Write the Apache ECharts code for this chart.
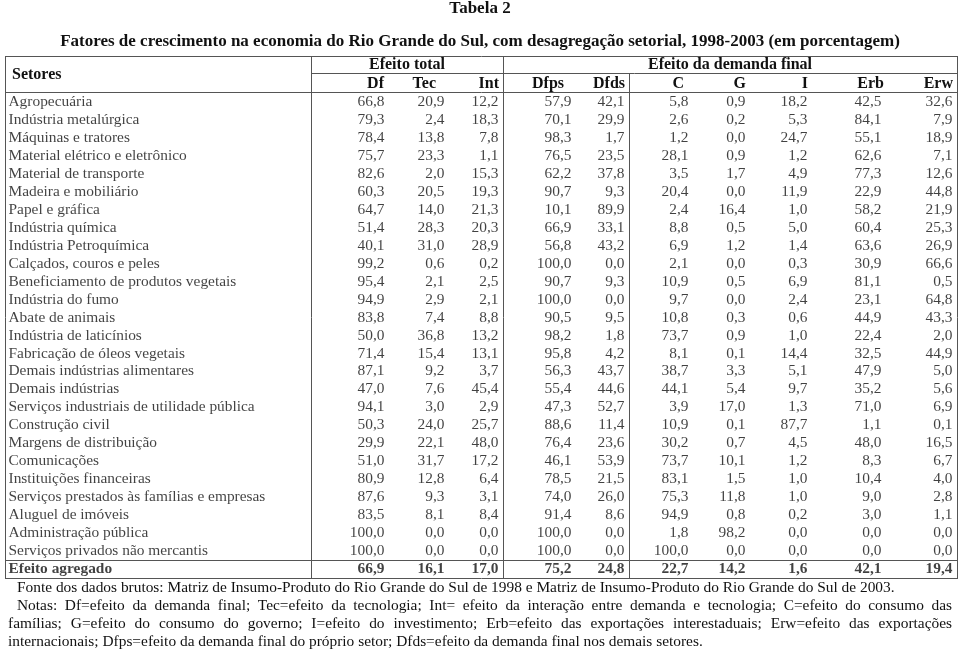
<!DOCTYPE html>
<html>
<head>
<meta charset="utf-8">
<script src="https://cdn.jsdelivr.net/npm/echarts@6/dist/echarts.min.js"></script>
<style>html,body{margin:0;padding:0;background:#fff}#c{width:960px;height:650px}</style>
</head>
<body>
<div id="c"></div>
<script>
const sectors = [
  'Agropecuária','Indústria metalúrgica','Máquinas e tratores','Material elétrico e eletrônico',
  'Material de transporte','Madeira e mobiliário','Papel e gráfica','Indústria química',
  'Indústria Petroquímica','Calçados, couros e peles','Beneficiamento de produtos vegetais',
  'Indústria do fumo','Abate de animais','Indústria de laticínios','Fabricação de óleos vegetais',
  'Demais indústrias alimentares','Demais indústrias','Serviços industriais de utilidade pública',
  'Construção civil','Margens de distribuição','Comunicações','Instituições financeiras',
  'Serviços prestados às famílias e empresas','Aluguel de imóveis','Administração pública',
  'Serviços privados não mercantis','Efeito agregado'
];
const columns = ['Df','Tec','Int','Dfps','Dfds','C','G','I','Erb','Erw'];
const df   = [66.8,79.3,78.4,75.7,82.6,60.3,64.7,51.4,40.1,99.2,95.4,94.9,83.8,50.0,71.4,87.1,47.0,94.1,50.3,29.9,51.0,80.9,87.6,83.5,100.0,100.0,66.9];
const tec  = [20.9,2.4,13.8,23.3,2.0,20.5,14.0,28.3,31.0,0.6,2.1,2.9,7.4,36.8,15.4,9.2,7.6,3.0,24.0,22.1,31.7,12.8,9.3,8.1,0.0,0.0,16.1];
const intr = [12.2,18.3,7.8,1.1,15.3,19.3,21.3,20.3,28.9,0.2,2.5,2.1,8.8,13.2,13.1,3.7,45.4,2.9,25.7,48.0,17.2,6.4,3.1,8.4,0.0,0.0,17.0];
const dfps = [57.9,70.1,98.3,76.5,62.2,90.7,10.1,66.9,56.8,100.0,90.7,100.0,90.5,98.2,95.8,56.3,55.4,47.3,88.6,76.4,46.1,78.5,74.0,91.4,100.0,100.0,75.2];
const dfds = [42.1,29.9,1.7,23.5,37.8,9.3,89.9,33.1,43.2,0.0,9.3,0.0,9.5,1.8,4.2,43.7,44.6,52.7,11.4,23.6,53.9,21.5,26.0,8.6,0.0,0.0,24.8];
const cons = [5.8,2.6,1.2,28.1,3.5,20.4,2.4,8.8,6.9,2.1,10.9,9.7,10.8,73.7,8.1,38.7,44.1,3.9,10.9,30.2,73.7,83.1,75.3,94.9,1.8,100.0,22.7];
const gov  = [0.9,0.2,0.0,0.9,1.7,0.0,16.4,0.5,1.2,0.0,0.5,0.0,0.3,0.9,0.1,3.3,5.4,17.0,0.1,0.7,10.1,1.5,11.8,0.8,98.2,0.0,14.2];
const inv  = [18.2,5.3,24.7,1.2,4.9,11.9,1.0,5.0,1.4,0.3,6.9,2.4,0.6,1.0,14.4,5.1,9.7,1.3,87.7,4.5,1.2,1.0,1.0,0.2,0.0,0.0,1.6];
const erb  = [42.5,84.1,55.1,62.6,77.3,22.9,58.2,60.4,63.6,30.9,81.1,23.1,44.9,22.4,32.5,47.9,35.2,71.0,1.1,48.0,8.3,10.4,9.0,3.0,0.0,0.0,42.1];
const erw  = [32.6,7.9,18.9,7.1,12.6,44.8,21.9,25.3,26.9,66.6,0.5,64.8,43.3,2.0,44.9,5.0,5.6,6.9,0.1,16.5,6.7,4.0,2.8,1.1,0.0,0.0,19.4];
const seriesValues = [df, tec, intr, dfps, dfds, cons, gov, inv, erb, erw];
const title = 'Tabela 2';
const subtitle = 'Fatores de crescimento na economia do Rio Grande do Sul, com desagregação setorial, 1998-2003 (em porcentagem)';
const groupHeaders = ['Efeito total', 'Efeito da demanda final'];
const stubHeader = 'Setores';
const source = 'Fonte dos dados brutos: Matriz de Insumo-Produto do Rio Grande do Sul de 1998 e Matriz de Insumo-Produto do Rio Grande do Sul de 2003.';
const notes = [
  'Notas: Df=efeito da demanda final; Tec=efeito da tecnologia; Int= efeito da interação entre demanda e tecnologia; C=efeito do consumo das',
  'famílias; G=efeito do consumo do governo; I=efeito do investimento; Erb=efeito das exportações interestaduais; Erw=efeito das exportações',
  'internacionais; Dfps=efeito da demanda final do próprio setor; Dfds=efeito da demanda final nos demais setores.'
];

// ---- layout (positions/styles) ----
const FONT = '"Liberation Serif", "Times New Roman", serif';
const FS = 15.4;
const TXT = '#111';
const LINE = '#555';
const colRight = [385, 445, 499, 572, 625, 689, 746, 808, 882, 953];
const headerRight = [384, 436, 499, 564, 625, 684, 746, 808, 884, 953];
const tableTop = 93, tableBottom = 578;
const fmt = v => v.toFixed(1).replace('.', ',');
const lastRow = sectors.length - 1;

const grids = [], xAxes = [], yAxes = [], series = [];
function addGrid(left, width) {
  const i = grids.length;
  grids.push({left: left, top: tableTop, width: width, height: tableBottom - tableTop});
  xAxes.push({type: 'value', gridIndex: i, min: 0, max: 1, show: false});
  yAxes.push({type: 'category', gridIndex: i, data: sectors, inverse: true, show: false, boundaryGap: true});
  return i;
}
// stub column
const g0 = addGrid(8, 300);
series.push({
  type: 'scatter', xAxisIndex: g0, yAxisIndex: g0, symbolSize: 1, silent: true,
  itemStyle: {color: 'rgba(0,0,0,0)'},
  data: sectors.map((s, r) => ({value: [0, r], name: s,
    label: r === lastRow ? {fontWeight: 'bold'} : undefined})),
  label: {show: true, position: 'right', distance: 0, formatter: p => p.name,
    fontFamily: FONT, fontSize: FS, color: TXT}
});
seriesValues.forEach((vals, c) => {
  const gi = addGrid(colRight[c] - 50, 50);
  series.push({
    type: 'scatter', xAxisIndex: gi, yAxisIndex: gi, symbolSize: 1, silent: true,
    itemStyle: {color: 'rgba(0,0,0,0)'},
    data: vals.map((v, r) => ({value: [1, r, v],
      label: r === lastRow ? {fontWeight: 'bold'} : undefined})),
    label: {show: true, position: 'left', distance: 0, formatter: p => fmt(p.value[2]),
      fontFamily: FONT, fontSize: FS, color: TXT}
  });
});

// table rules
const graphics = [];
function hline(y, x1, x2) { graphics.push({type: 'line', silent: true, shape: {x1: x1, y1: y + 0.5, x2: x2, y2: y + 0.5}, style: {stroke: LINE, lineWidth: 1}}); }
function vline(x, y1, y2) { graphics.push({type: 'line', silent: true, shape: {x1: x + 0.5, y1: y1, x2: x + 0.5, y2: y2}, style: {stroke: LINE, lineWidth: 1}}); }
hline(56, 5, 958); hline(73, 311, 958); hline(92, 5, 958); hline(560, 5, 958); hline(578, 5, 958);
vline(5, 56, 579); vline(311, 56, 579); vline(503, 56, 579); vline(629, 73, 579); vline(957, 56, 579);

function text(str, x, y, align, bold, size) {
  graphics.push({type: 'text', silent: true, x: x, y: y,
    style: {text: str, fill: TXT, font: (bold ? 'bold ' : '') + (size || FS) + 'px ' + FONT,
      align: align, verticalAlign: 'middle'}});
}
text(stubHeader, 12, 75, 'left', true, 16);
text(groupHeaders[0], 407, 65, 'center', true, 16);
text(groupHeaders[1], 730, 65, 'center', true, 16);
columns.forEach((h, c) => text(h, headerRight[c], 84, 'right', true, 16));

// footnotes
text(source, 17, 588, 'left', false);
const ctx = document.createElement('canvas').getContext('2d');
ctx.font = FS + 'px ' + FONT;
function justify(line, x1, x2, y) {
  const words = line.split(' ');
  const widths = words.map(w => ctx.measureText(w).width);
  const total = widths.reduce((a, b) => a + b, 0);
  const gap = (x2 - x1 - total) / (words.length - 1);
  let x = x1;
  words.forEach((w, i) => { text(w, x, y, 'left', false); x += widths[i] + gap; });
}
justify(notes[0], 17, 952, 606);
justify(notes[1], 8, 952, 624);
text(notes[2], 8, 642, 'left', false);

const chart = echarts.init(document.getElementById('c'), null, {renderer: 'canvas'});
chart.setOption({
  backgroundColor: '#fff',
  animation: false,
  title: [
    {text: title, left: 'center', top: 0, padding: 0, textStyle: {fontFamily: FONT, fontSize: 17, fontWeight: 'bold', color: TXT}},
    {text: subtitle, left: 'center', top: 33, padding: 0, textStyle: {fontFamily: FONT, fontSize: 17, fontWeight: 'bold', color: TXT}}
  ],
  grid: grids, xAxis: xAxes, yAxis: yAxes, series: series, graphic: graphics
});
</script>
</body>
</html>
